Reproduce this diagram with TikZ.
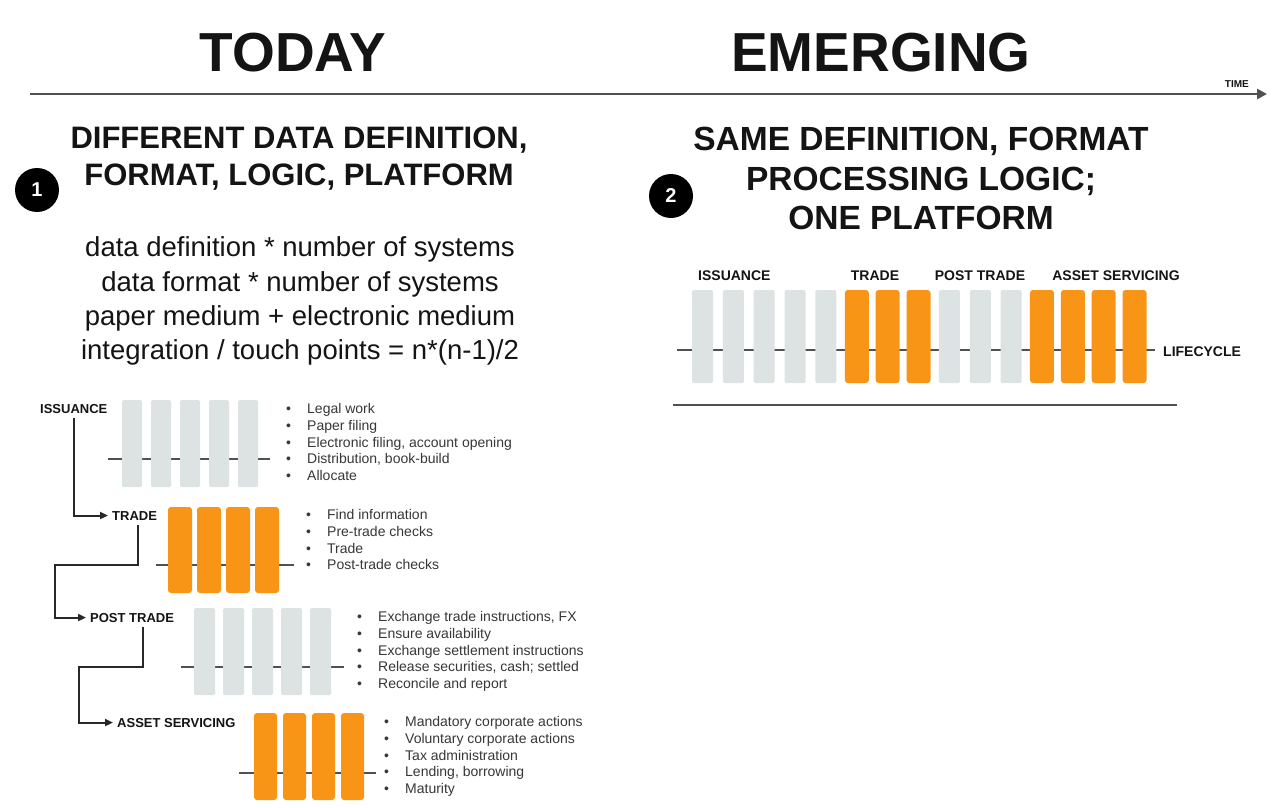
\documentclass[tikz,border=0pt]{standalone}
\usepackage{fontspec}
\setmainfont{Liberation Sans}
\usetikzlibrary{arrows.meta}
\definecolor{bargray}{RGB}{221,226,226}
\definecolor{barorange}{RGB}{248,148,22}
\definecolor{linegray}{RGB}{80,80,80}
\definecolor{txtgray}{RGB}{55,55,55}
\definecolor{headblack}{RGB}{20,20,20}
\definecolor{connblack}{RGB}{40,40,40}
\tikzset{
  gbar/.style={fill=bargray, rounded corners=1.5pt},
  obar/.style={fill=barorange, rounded corners=3pt},
  life/.style={draw=linegray, line width=2pt},
  conn/.style={draw=connblack, line width=2pt, shorten >=4pt, shorten <=5pt, -{Triangle[length=8pt,width=7pt]}},
  lbl/.style={font=\fontsize{13}{13}\selectfont\bfseries, text=headblack, inner sep=0pt, anchor=base west},
  rlbl/.style={font=\fontsize{14}{14}\selectfont\bfseries, text=headblack, inner sep=0pt, anchor=base},
  itm/.style={font=\fontsize{14}{14}\selectfont, text=txtgray, inner sep=0pt, anchor=base west},
  bignum/.style={circle, fill=black, minimum size=44pt, inner sep=0pt, text=white, font=\fontsize{20}{20}\selectfont\bfseries},
  bigtitle/.style={font=\fontsize{55}{55}\selectfont\bfseries, text=headblack, inner sep=0pt, anchor=base},
  heading/.style={font=\fontsize{31}{31}\selectfont\bfseries, text=headblack, inner sep=0pt, anchor=base},
  rheading/.style={font=\fontsize{33.5}{33.5}\selectfont\bfseries, text=headblack, inner sep=0pt, anchor=base},
  formula/.style={font=\fontsize{27.5}{27.5}\selectfont, text=headblack, inner sep=0pt, anchor=base},
  timearrow/.style={draw=linegray, line width=2.5pt, -{Triangle[length=10pt,width=10pt]}},
  bottomline/.style={draw=linegray, line width=2.5pt}
}
\newcommand{\bul}[1]{\makebox[21pt][l]{\textbullet}#1}
\begin{document}
\begin{tikzpicture}[x=1pt,y=-1pt]
\useasboundingbox[fill=white] (0,0) rectangle (1280,808);

% ---- titles and time axis
\node[bigtitle] (today) at (293,72) {TODAY};
\node[bigtitle] (emerging) at (881,72) {EMERGING};
\coordinate (tstart) at (30,94);
\coordinate (tend) at (1267,94);
\draw[timearrow] (tstart) -- (tend);
\node[font=\fontsize{10}{10}\selectfont\bfseries, text=headblack, inner sep=0pt, anchor=base east] (time) at (1249,88) {TIME};

% ---- numbered circles
\node[bignum] (n1) at (37,190) {1};
\node[bignum] (n2) at (671,196) {2};

% ---- left heading and formulas
\node[heading] (lh1) at (299,148) {DIFFERENT DATA DEFINITION,};
\node[heading] (lh2) at (299,185) {FORMAT, LOGIC, PLATFORM};
\node[formula] (f1) at (300,256) {data definition * number of systems};
\node[formula] (f2) at (300,291) {data format * number of systems};
\node[formula] (f3) at (300,325) {paper medium + electronic medium};
\node[formula] (f4) at (300,359) {integration / touch points = n*(n-1)/2};

% ---- right heading
\node[rheading] (rh1) at (921,150) {SAME DEFINITION, FORMAT};
\node[rheading] (rh2) at (921,190) {PROCESSING LOGIC;};
\node[rheading] (rh3) at (921,229) {ONE PLATFORM};

% ================= LEFT: TODAY lifecycle blocks
% Issuance
\coordinate (il0) at (108,459); \coordinate (il1) at (270,459);
\draw[life] (il0) -- (il1);
\foreach \i in {0,...,4} \fill[gbar] ({122+29*\i},400) rectangle ++(20,87);
\node[lbl] (iss) at (40,413) {ISSUANCE};
\foreach \t [count=\k from 0] in {Legal work, Paper filing, {Electronic filing, account opening}, {Distribution, book-build}, Allocate}
  \node[itm] (iss-\k) at (286,{413.5+16.8*\k}) {\bul{\t}};

% Trade
\coordinate (tl0) at (156,565); \coordinate (tl1) at (294,565);
\draw[life] (tl0) -- (tl1);
\foreach \i in {0,...,3} \fill[obar] ({168+29*\i},507) rectangle ++(24,86);
\node[lbl] (trd) at (112,520) {TRADE};
\foreach \t [count=\k from 0] in {Find information, Pre-trade checks, Trade, Post-trade checks}
  \node[itm] (trd-\k) at (306,{519.5+16.8*\k}) {\bul{\t}};

% Post trade
\coordinate (pl0) at (181,667); \coordinate (pl1) at (344,667);
\draw[life] (pl0) -- (pl1);
\foreach \i in {0,...,4} \fill[gbar] ({194+29*\i},608) rectangle ++(21,87);
\node[lbl] (pst) at (90,622) {POST TRADE};
\foreach \t [count=\k from 0] in {{Exchange trade instructions, FX}, Ensure availability, Exchange settlement instructions, {Release securities, cash; settled}, Reconcile and report}
  \node[itm] (pst-\k) at (357,{621.5+16.8*\k}) {\bul{\t}};

% Asset servicing
\coordinate (al0) at (239,773); \coordinate (al1) at (376,773);
\draw[life] (al0) -- (al1);
\foreach \i in {0,...,3} \fill[obar] ({254+29*\i},713) rectangle ++(23,87);
\node[lbl] (ast) at (117,727) {ASSET SERVICING};
\foreach \t [count=\k from 0] in {Mandatory corporate actions, Voluntary corporate actions, Tax administration, {Lending, borrowing}, Maturity}
  \node[itm] (ast-\k) at (384,{726.5+16.8*\k}) {\bul{\t}};

% connectors
\coordinate (tk) at (55,565);
\coordinate (pk) at (79,667);
\draw[conn] (iss.south) |- (trd.west);
\draw[conn] ([xshift=3pt]trd.south) |- (tk) |- (pst.west);
\draw[conn] ([xshift=11pt]pst.south) |- (pk) |- (ast.west);

% ================= RIGHT: EMERGING platform
\coordinate (rl0) at (677,350); \coordinate (rl1) at (1155,350);
\draw[life] (rl0) -- (rl1);
\foreach \i in {0,...,4,8,9,10} \fill[gbar] ({692+30.86*\i},290) rectangle ++(21,93);
\foreach \i in {5,6,7,11,12,13,14} \fill[obar] ({690.5+30.86*\i},290) rectangle ++(24,93);
\node[rlbl, anchor=base west] (riss) at (698,280) {ISSUANCE};
\node[rlbl] (rtrd) at (875,280) {TRADE};
\node[rlbl] (rpst) at (980,280) {POST TRADE};
\node[rlbl] (rast) at (1116,280) {ASSET SERVICING};
\node[rlbl, anchor=base west] (life) at (1163,356) {LIFECYCLE};
\coordinate (bl0) at (673,405); \coordinate (bl1) at (1177,405);
\draw[bottomline] (bl0) -- (bl1);
\end{tikzpicture}
\end{document}
